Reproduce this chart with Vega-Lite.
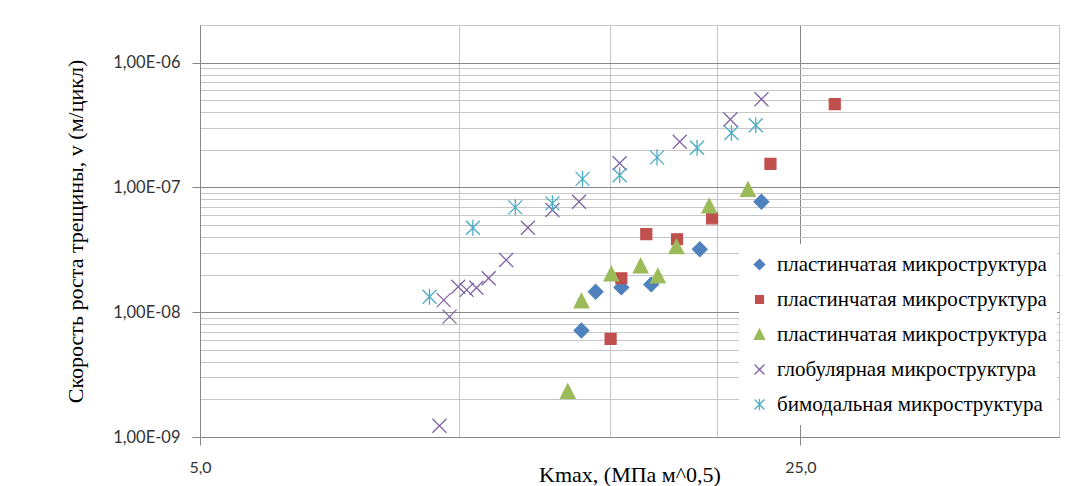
{
  "$schema": "https://vega.github.io/schema/vega-lite/v6.json",
  "width": 859,
  "height": 412,
  "autosize": {"type": "none"},
  "padding": {"left": 200, "top": 25, "right": 20, "bottom": 49},
  "background": "white",
  "config": {
    "view": {"stroke": "#c6c6c6", "strokeWidth": 1},
    "legend": {"labelFont": "Liberation Serif", "labelFontSize": 21, "labelColor": "black", "labelLimit": 400}
  },
  "data": {
    "values": [
      {"series": "пластинчатая микроструктура|1", "kmax": 13.90, "v": 7.13e-9},
      {"series": "пластинчатая микроструктура|1", "kmax": 14.44, "v": 1.46e-8},
      {"series": "пластинчатая микроструктура|1", "kmax": 15.47, "v": 1.58e-8},
      {"series": "пластинчатая микроструктура|1", "kmax": 16.76, "v": 1.67e-8},
      {"series": "пластинчатая микроструктура|1", "kmax": 19.09, "v": 3.19e-8},
      {"series": "пластинчатая микроструктура|1", "kmax": 22.52, "v": 7.67e-8},
      {"series": "пластинчатая микроструктура|2", "kmax": 15.03, "v": 6.1e-9},
      {"series": "пластинчатая микроструктура|2", "kmax": 15.47, "v": 1.87e-8},
      {"series": "пластинчатая микроструктура|2", "kmax": 16.54, "v": 4.23e-8},
      {"series": "пластинчатая микроструктура|2", "kmax": 17.96, "v": 3.84e-8},
      {"series": "пластинчатая микроструктура|2", "kmax": 19.73, "v": 5.65e-8},
      {"series": "пластинчатая микроструктура|2", "kmax": 23.07, "v": 1.54e-7},
      {"series": "пластинчатая микроструктура|2", "kmax": 27.41, "v": 4.64e-7},
      {"series": "пластинчатая микроструктура|3", "kmax": 13.40, "v": 2.32e-9},
      {"series": "пластинчатая микроструктура|3", "kmax": 13.90, "v": 1.23e-8},
      {"series": "пластинчатая микроструктура|3", "kmax": 15.06, "v": 2.02e-8},
      {"series": "пластинчатая микроструктура|3", "kmax": 16.29, "v": 2.35e-8},
      {"series": "пластинчатая микроструктура|3", "kmax": 17.06, "v": 1.95e-8},
      {"series": "пластинчатая микроструктура|3", "kmax": 17.93, "v": 3.35e-8},
      {"series": "пластинчатая микроструктура|3", "kmax": 19.58, "v": 7.09e-8},
      {"series": "пластинчатая микроструктура|3", "kmax": 21.72, "v": 9.64e-8},
      {"series": "глобулярная микроструктура", "kmax": 9.50, "v": 1.23e-9},
      {"series": "глобулярная микроструктура", "kmax": 9.61, "v": 1.25e-8},
      {"series": "глобулярная микроструктура", "kmax": 9.76, "v": 9.22e-9},
      {"series": "глобулярная микроструктура", "kmax": 9.99, "v": 1.6e-8},
      {"series": "глобулярная микроструктура", "kmax": 10.22, "v": 1.51e-8},
      {"series": "глобулярная микроструктура", "kmax": 10.49, "v": 1.57e-8},
      {"series": "глобулярная микроструктура", "kmax": 10.84, "v": 1.87e-8},
      {"series": "глобулярная микроструктура", "kmax": 11.36, "v": 2.62e-8},
      {"series": "глобулярная микроструктура", "kmax": 12.04, "v": 4.75e-8},
      {"series": "глобулярная микроструктура", "kmax": 12.86, "v": 6.58e-8},
      {"series": "глобулярная микроструктура", "kmax": 13.81, "v": 7.67e-8},
      {"series": "глобулярная микроструктура", "kmax": 15.40, "v": 1.56e-7},
      {"series": "глобулярная микроструктура", "kmax": 18.09, "v": 2.32e-7},
      {"series": "глобулярная микроструктура", "kmax": 20.72, "v": 3.5e-7},
      {"series": "глобулярная микроструктура", "kmax": 22.52, "v": 5.09e-7},
      {"series": "бимодальная микроструктура", "kmax": 9.25, "v": 1.33e-8},
      {"series": "бимодальная микроструктура", "kmax": 10.39, "v": 4.75e-8},
      {"series": "бимодальная микроструктура", "kmax": 11.64, "v": 6.92e-8},
      {"series": "бимодальная микроструктура", "kmax": 12.86, "v": 7.45e-8},
      {"series": "бимодальная микроструктура", "kmax": 13.94, "v": 1.17e-7},
      {"series": "бимодальная микроструктура", "kmax": 15.40, "v": 1.25e-7},
      {"series": "бимодальная микроструктура", "kmax": 17.02, "v": 1.74e-7},
      {"series": "бимодальная микроструктура", "kmax": 18.95, "v": 2.08e-7},
      {"series": "бимодальная микроструктура", "kmax": 20.78, "v": 2.73e-7},
      {"series": "бимодальная микроструктура", "kmax": 22.18, "v": 3.15e-7}
    ]
  },
  "mark": {"type": "point", "filled": true, "opacity": 1, "size": 196, "strokeWidth": 1.3},
  "encoding": {
    "x": {
      "field": "kmax", "type": "quantitative",
      "scale": {"type": "log", "domain": [5, 50], "nice": false},
      "axis": {
        "values": [5, 10, 15, 20, 25, 50],
        "labelExpr": "datum.value == 5 ? '5,0' : datum.value == 25 ? '25,0' : ''",
        "grid": true,
        "gridColor": {"condition": {"test": "datum.value == 25", "value": "#878787"}, "value": "#c6c6c6"},
        "gridWidth": 1,
        "domainColor": "#878787",
        "tickColor": {"condition": {"test": "datum.value == 5 || datum.value == 25", "value": "#878787"}, "value": "transparent"},
        "tickSize": 8,
        "labelFont": "Lato", "labelFontSize": 16, "labelColor": "#333333", "labelPadding": 14,
        "labelFlush": false, "labelOverlap": false, "labelBound": false,
        "title": "Kmax, (МПа м^0,5)",
        "titleFont": "Liberation Serif", "titleFontSize": 22, "titleFontWeight": "normal", "titleColor": "black",
        "titleY": 27, "titleBaseline": "top"
      }
    },
    "y": {
      "field": "v", "type": "quantitative",
      "scale": {"type": "log", "domain": [1e-9, 2e-6], "nice": false},
      "axis": {
        "values": [1e-9, 2e-9, 3e-9, 4e-9, 5e-9, 6e-9, 7e-9, 8e-9, 9e-9, 1e-8, 2e-8, 3e-8, 4e-8, 5e-8, 6e-8, 7e-8, 8e-8, 9e-8, 1e-7, 2e-7, 3e-7, 4e-7, 5e-7, 6e-7, 7e-7, 8e-7, 9e-7, 1e-6, 2e-6],
        "labelExpr": "abs(log(datum.value)/LN10 - round(log(datum.value)/LN10)) < 0.001 ? '1,00E-0' + (-round(log(datum.value)/LN10)) : ''",
        "grid": true,
        "gridColor": {"condition": {"test": "abs(log(datum.value)/LN10 - round(log(datum.value)/LN10)) < 0.001", "value": "#878787"}, "value": "#c6c6c6"},
        "gridWidth": 1,
        "domainColor": "#878787",
        "tickColor": {"condition": {"test": "abs(log(datum.value)/LN10 - round(log(datum.value)/LN10)) < 0.001", "value": "#878787"}, "value": "transparent"},
        "tickSize": 8,
        "labelFont": "Lato", "labelFontSize": 16.5, "labelColor": "#333333", "labelPadding": 12,
        "labelOverlap": false, "labelBound": false, "labelFlush": false,
        "title": "Скорость роста трещины, v (м/цикл)",
        "titleFont": "Liberation Serif", "titleFontSize": 22, "titleFontWeight": "normal", "titleColor": "black",
        "titleX": -113
      }
    },
    "fill": {
      "field": "series", "type": "nominal",
      "scale": {
        "domain": ["пластинчатая микроструктура|1", "пластинчатая микроструктура|2", "пластинчатая микроструктура|3", "глобулярная микроструктура", "бимодальная микроструктура"],
        "range": ["#4F81BD", "#C0504D", "#9BBB59", "#8064A2", "#4BACC6"]
      },
      "legend": {
        "orient": "none", "legendX": 539, "legendY": 219, "title": null,
        "fillColor": "white", "padding": 10,
        "labelFont": "Liberation Serif", "labelFontSize": 21, "labelColor": "black", "labelLimit": 400,
        "symbolSize": 100, "symbolStrokeWidth": 1.3, "rowPadding": 13, "labelOffset": 7,
        "labelExpr": "split(datum.label, '|')[0]"
      }
    },
    "stroke": {
      "field": "series", "type": "nominal",
      "scale": {
        "domain": ["пластинчатая микроструктура|1", "пластинчатая микроструктура|2", "пластинчатая микроструктура|3", "глобулярная микроструктура", "бимодальная микроструктура"],
        "range": ["#4F81BD", "#C0504D", "#9BBB59", "#8064A2", "#4BACC6"]
      },
      "legend": {
        "orient": "none", "legendX": 539, "legendY": 219, "title": null,
        "fillColor": "white", "padding": 10,
        "labelFont": "Liberation Serif", "labelFontSize": 21, "labelColor": "black", "labelLimit": 400,
        "symbolSize": 100, "symbolStrokeWidth": 1.3, "rowPadding": 13, "labelOffset": 7,
        "labelExpr": "split(datum.label, '|')[0]"
      }
    },
    "shape": {
      "field": "series", "type": "nominal",
      "scale": {
        "domain": ["пластинчатая микроструктура|1", "пластинчатая микроструктура|2", "пластинчатая микроструктура|3", "глобулярная микроструктура", "бимодальная микроструктура"],
        "range": [
          "M0,-1.04L1.04,0L0,1.04L-1.04,0Z",
          "M-0.78,-0.78L0.78,-0.78L0.78,0.78L-0.78,0.78Z",
          "M0,-1.05L1.04,0.98L-1.04,0.98Z",
          "M-1,-1L1,1M-1,1L1,-1",
          "M-1,-1L1,1M-1,1L1,-1M0,-1.15L0,1.15"
        ]
      },
      "legend": {
        "orient": "none", "legendX": 539, "legendY": 219, "title": null,
        "fillColor": "white", "padding": 10,
        "labelFont": "Liberation Serif", "labelFontSize": 21, "labelColor": "black", "labelLimit": 400,
        "symbolSize": 100, "symbolStrokeWidth": 1.3, "rowPadding": 13, "labelOffset": 7,
        "labelExpr": "split(datum.label, '|')[0]"
      }
    }
  }
}
